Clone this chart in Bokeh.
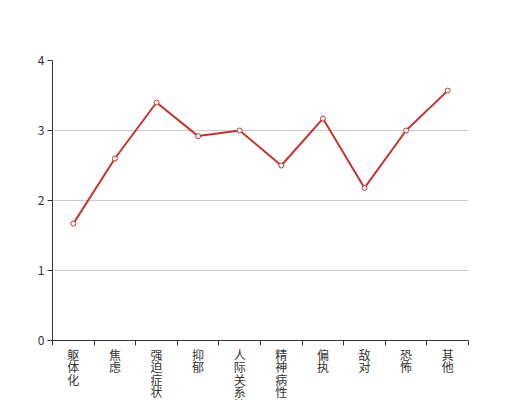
from bokeh.plotting import figure
from bokeh.models import Range1d, FixedTicker
from bokeh.embed import file_html
from bokeh.resources import INLINE

categories = ["躯体化", "焦虑", "强迫症状", "抑郁", "人际关系敏感", "精神病性", "偏执", "敌对", "恐怖", "其他"]
values = [1.67, 2.60, 3.40, 2.92, 3.00, 2.50, 3.17, 2.18, 3.00, 3.57]
y_ticks = [0, 1, 2, 3, 4]

n = len(categories)
xs = [i + 0.5 for i in range(n)]

p = figure(frame_width=416, frame_height=280, output_backend="svg", toolbar_location=None,
           x_range=Range1d(0, n), y_range=Range1d(0, 4),
           min_border_left=52, min_border_right=44, min_border_top=60, min_border_bottom=0)
p.outline_line_color = None

p.line(xs, values, line_color="#c23531", line_width=2)
p.scatter(xs, values, size=5, marker="circle", fill_color="white", line_color="#c23531", line_width=1)

font = "Noto Sans CJK SC"
xa = p.xaxis[0]
xa.ticker = FixedTicker(ticks=xs, minor_ticks=list(range(n + 1)))
xa.major_label_overrides = {x: "\n".join(c) for x, c in zip(xs, categories)}
xa.major_tick_out = 0
xa.major_tick_in = 0
xa.minor_tick_out = 5
xa.minor_tick_in = 0
xa.minor_tick_line_color = "#333333"
xa.axis_line_color = "#333333"
xa.major_label_standoff = 0
xa.major_label_text_font = font
xa.major_label_text_font_size = "12px"
xa.major_label_text_color = "#333333"
xa.major_label_text_line_height = 0.74

ya = p.yaxis[0]
ya.ticker = FixedTicker(ticks=y_ticks)
ya.minor_tick_out = 0
ya.minor_tick_in = 0
ya.major_tick_out = 5
ya.major_tick_in = 0
ya.major_tick_line_color = "#333333"
ya.axis_line_color = "#333333"
ya.major_label_standoff = 3
ya.major_label_text_font = font
ya.major_label_text_font_size = "12px"
ya.major_label_text_color = "#333333"

p.xgrid.visible = False
p.ygrid.grid_line_color = "#cccccc"
p.ygrid.ticker = FixedTicker(ticks=y_ticks)

open("out.html", "w").write(file_html(p, INLINE))
